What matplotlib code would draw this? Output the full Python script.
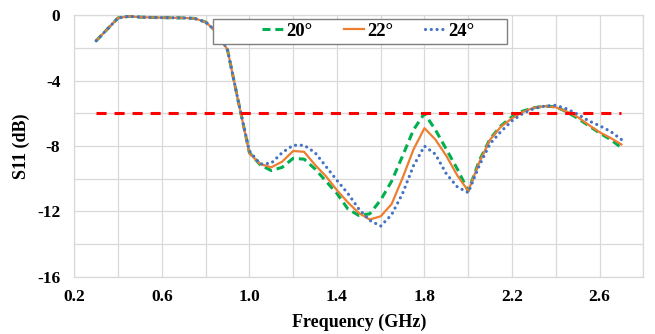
import matplotlib
matplotlib.use("Agg")
import matplotlib.pyplot as plt
from matplotlib.patches import Rectangle

freq = [0.30, 0.35, 0.40, 0.45, 0.50, 0.55, 0.60, 0.65, 0.70, 0.75,
        0.80, 0.85, 0.90, 0.95, 1.00, 1.05, 1.10, 1.15, 1.20, 1.25,
        1.30, 1.35, 1.40, 1.45, 1.50, 1.55, 1.60, 1.65, 1.70, 1.75,
        1.80, 1.85, 1.90, 1.95, 2.00, 2.05, 2.10, 2.15, 2.20, 2.25,
        2.30, 2.35, 2.40, 2.45, 2.50, 2.55, 2.60, 2.65, 2.70]

s11_20 = [-1.55, -0.85, -0.15, -0.05, -0.10, -0.12, -0.13, -0.14, -0.15, -0.18,
          -0.40, -1.00, -2.10, -5.30,
          -8.40, -9.15, -9.50, -9.30, -8.75, -8.80, -9.40, -10.15, -10.90, -11.85,
          -12.25, -12.15, -11.30, -10.15, -8.60, -7.00, -6.00, -7.00, -8.20, -9.40,
          -10.75, -8.90, -7.55, -6.75, -6.20, -5.85, -5.65, -5.55, -5.60, -5.90,
          -6.30, -6.75, -7.20, -7.60, -8.10]

s11_22 = [-1.55, -0.85, -0.15, -0.05, -0.10, -0.12, -0.13, -0.14, -0.15, -0.18,
          -0.40, -1.00, -2.10, -5.30,
          -8.45, -9.10, -9.30, -8.95, -8.30, -8.35, -9.15, -9.85, -10.70, -11.45,
          -12.10, -12.50, -12.30, -11.55, -9.95, -8.20, -6.90, -7.60, -8.60, -9.80,
          -10.75, -9.00, -7.60, -6.80, -6.30, -5.90, -5.65, -5.55, -5.62, -5.88,
          -6.22, -6.70, -7.15, -7.50, -7.90]

s11_24 = [-1.55, -0.85, -0.15, -0.05, -0.10, -0.12, -0.13, -0.14, -0.15, -0.18,
          -0.40, -1.00, -2.10, -5.30,
          -8.30, -9.10, -9.05, -8.40, -7.95, -7.95, -8.40, -9.25, -10.10, -10.90,
          -11.85, -12.55, -12.90, -12.20, -10.90, -9.20, -8.00, -8.50, -9.70, -10.50,
          -10.85, -9.20, -7.85, -7.10, -6.45, -6.00, -5.70, -5.55, -5.50, -5.72,
          -6.05, -6.45, -6.75, -7.10, -7.60]

threshold_x = [0.30, 2.70]
threshold_y = [-6, -6]

labels = ["20°", "22°", "24°"]
x_ticks = [0.2, 0.4, 0.6, 0.8, 1.0, 1.2, 1.4, 1.6, 1.8, 2.0, 2.2, 2.4, 2.6, 2.8]
x_ticklabels = ["0.2", "", "0.6", "", "1.0", "", "1.4", "", "1.8", "", "2.2", "", "2.6", ""]
y_ticks = [-16, -14, -12, -10, -8, -6, -4, -2, 0]
y_ticklabels = ["-16", "", "-12", "", "-8", "", "-4", "", "0"]

plt.rcParams['font.family'] = ['Liberation Serif', 'DejaVu Serif']
plt.rcParams['font.weight'] = 'bold'

fig = plt.figure(figsize=(6.55, 3.34), dpi=100)
ax = fig.add_axes([0.1134, 0.1716, 0.8688, 0.782])

grid_c = '#d9d9d9'
ax.plot(freq, s11_20, color='#00B050', lw=2.2, linestyle=(0, (2.6, 1.6)),
        dash_capstyle='butt', label=labels[0], zorder=3)
ax.plot(freq, s11_22, color='#ED7D31', lw=1.6, linestyle='-', label=labels[1], zorder=4)
ax.plot(freq, s11_24, color='#4472C4', lw=2.3, linestyle=(0, (0.01, 1.8)),
        dash_capstyle='round', label=labels[2], zorder=5)
ax.plot(threshold_x, threshold_y, color='#FF0000', lw=2.2,
        linestyle=(0, (3.3, 2.6)), dash_capstyle='butt', zorder=6)

ax.set_xlim(0.2, 2.8)
ax.set_ylim(-16, 0)
ax.set_xticks(x_ticks)
ax.set_xticklabels(x_ticklabels)
ax.set_yticks(y_ticks)
ax.set_yticklabels(y_ticklabels)
ax.tick_params(axis='both', length=0, labelsize=12.5)
ax.tick_params(axis='x', pad=9)
ax.tick_params(axis='y', pad=10)
ax.grid(True, color=grid_c, lw=0.9)
ax.set_axisbelow(True)
for sp in ax.spines.values():
    sp.set_color(grid_c)
    sp.set_linewidth(0.9)

ax.set_xlabel("Frequency (GHz)", fontsize=13, fontweight='bold')
ax.set_ylabel("S11 (dB)", fontsize=13, fontweight='bold')
ax.xaxis.set_label_coords(0.5, -0.14)
ax.yaxis.set_label_coords(-0.078, 0.5)

# legend box (drawn separately to match the wide frame)
box_x0, box_x1 = (213 - 74.3) / 569.0, (507 - 74.3) / 569.0
box_y0, box_y1 = 1 - (44 - 15.5) / 261.2, 1 - (19 - 15.5) / 261.2
rect = Rectangle((box_x0, box_y0), box_x1 - box_x0, box_y1 - box_y0,
                 transform=ax.transAxes, facecolor='white', edgecolor='#7f7f7f',
                 lw=1.0, zorder=9, clip_on=False)
ax.add_patch(rect)

cx = ((261 + 476) / 2.0 - 74.3) / 569.0
leg = ax.legend(loc='center', bbox_to_anchor=(cx, (box_y0 + box_y1) / 2),
                ncol=3, fontsize=13.5, frameon=False, borderaxespad=0,
                handlelength=1.1, handletextpad=0.15, columnspacing=1.7,
                borderpad=0.1)
leg.set_zorder(10)

fig.savefig("out.png", dpi=100)
